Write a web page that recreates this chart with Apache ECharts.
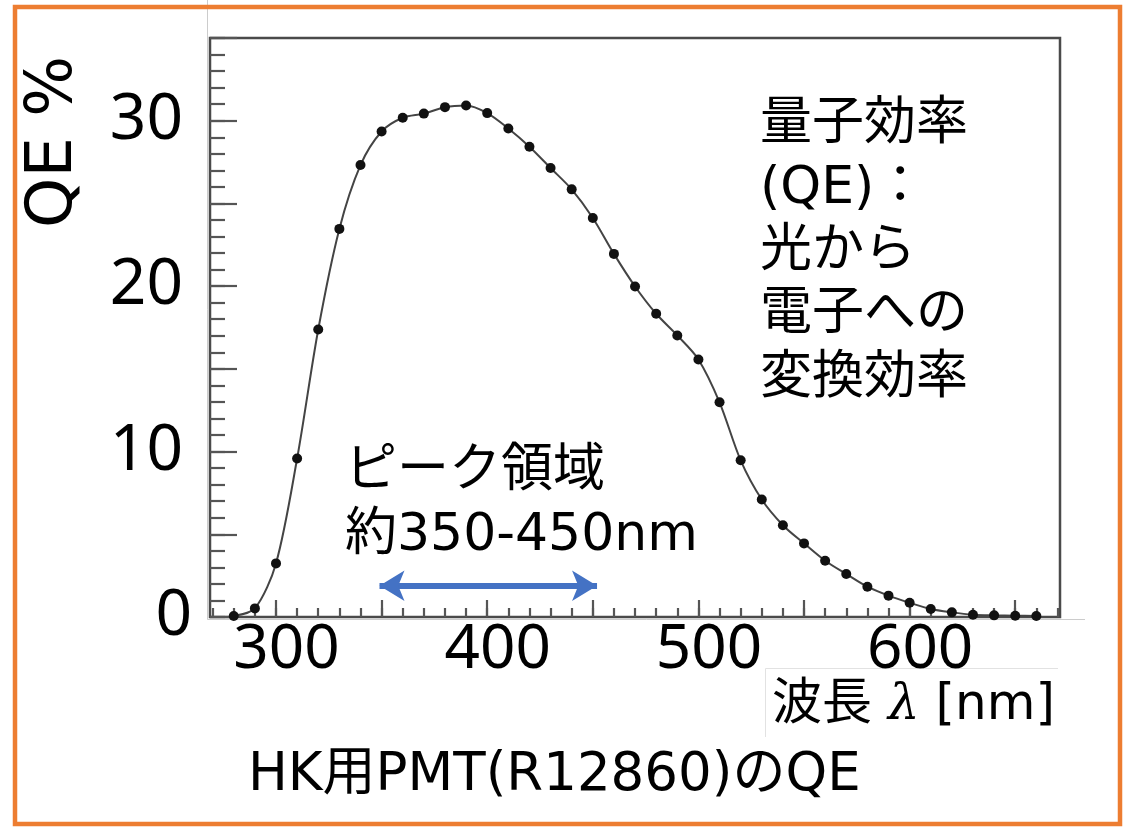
<!DOCTYPE html>
<html><head><meta charset="utf-8">
<script src="https://cdn.jsdelivr.net/npm/echarts@6/dist/echarts.min.js"></script>
<style>html,body{margin:0;padding:0;background:#fff}#c{width:1128px;height:827px}</style>
</head><body><div id="c"></div>
<script>
// ---- data ----
const wavelengths = [280,290,300,310,320,330,340,350,360,370,380,390,400,410,420,430,440,450,460,470,480,490,500,510,520,530,540,550,560,570,580,590,600,610,620,630,640,650,660];
const qe = [0.06,0.52,3.24,9.58,17.38,23.46,27.32,29.35,30.18,30.43,30.82,30.92,30.46,29.53,28.43,27.14,25.85,24.12,21.95,19.98,18.33,17.02,15.57,12.98,9.47,7.1,5.55,4.45,3.40,2.60,1.83,1.29,0.86,0.48,0.28,0.14,0.10,0.08,0.06];
const xMajorTicks = [300,350,400,450,500,550,600,650];
const xMinorTicks = [270,280,290,300,310,320,330,340,350,360,370,380,390,400,410,420,430,440,450,460,470,480,490,500,510,520,530,540,550,560,570,580,590,600,610,620,630,640,650,660,670];
const xTickLabels = [300,400,500,600];
const yMajorTicks = [0,5,10,15,20,25,30,35];
const yMinorTicks = [0,1,2,3,4,5,6,7,8,9,10,11,12,13,14,15,16,17,18,19,20,21,22,23,24,25,26,27,28,29,30,31,32,33,34,35];
const yTickLabels = [10,20,30];
const yZeroLabel = [0];
const peakRange = [349,452];
const peakArrowLevel = 1.89;

const xMin = 268.75, xMax = 671.2;
const labelShift = 4.97;

const chart = echarts.init(document.getElementById('c'), null, {renderer:'canvas'});
const annFont = "'DejaVu Sans','Noto Sans CJK JP',sans-serif";
const tickColor = '#555';

const hidden = {show:false};
const option = {
  backgroundColor:'#fff',
  animation:false,
  grid:{left:210, top:38, right:68, bottom:210, show:true, borderColor:'#4a4a4a', borderWidth:2.5, backgroundColor:'transparent'},
  xAxis:[
    {type:'value', min:xMin, max:xMax, position:'bottom', axisLine:hidden, splitLine:hidden, axisLabel:hidden,
     axisTick:{show:true, inside:true, length:17, customValues:xMajorTicks, lineStyle:{color:tickColor, width:2.2}}},
    {type:'value', min:xMin, max:xMax, position:'bottom', axisLine:hidden, splitLine:hidden, axisLabel:hidden,
     axisTick:{show:true, inside:true, length:9, customValues:xMinorTicks, lineStyle:{color:tickColor, width:2.2}}},
    {type:'value', min:xMin-labelShift, max:xMax-labelShift, position:'bottom', axisLine:hidden, splitLine:hidden, axisTick:hidden,
     axisLabel:{show:true, customValues:xTickLabels, margin:33, verticalAlign:'middle', fontFamily:'Noto Sans', fontSize:62, color:'#000'}}
  ],
  yAxis:[
    {type:'value', min:0, max:35, position:'left', axisLine:hidden, splitLine:hidden,
     axisTick:{show:true, inside:true, length:27, customValues:yMajorTicks, lineStyle:{color:tickColor, width:2.2}},
     axisLabel:{show:true, customValues:yTickLabels, margin:27, verticalAlign:'middle', fontFamily:'Noto Sans', fontSize:64, color:'#000'}},
    {type:'value', min:0, max:35, position:'left', axisLine:hidden, splitLine:hidden, axisLabel:hidden,
     axisTick:{show:true, inside:true, length:15, customValues:yMinorTicks, lineStyle:{color:tickColor, width:2.2}}},
    {type:'value', min:0, max:35, position:'left', axisLine:hidden, splitLine:hidden, axisTick:hidden,
     axisLabel:{show:true, customValues:yZeroLabel, margin:18, verticalAlign:'middle', fontFamily:'Noto Sans', fontSize:64, color:'#000'}}
  ],
  series:[{
    type:'line', xAxisIndex:0, yAxisIndex:0,
    data: wavelengths.map((w,i)=>[w, qe[i]]),
    smooth:0.3,
    symbol:'circle', symbolSize:10, showSymbol:true,
    itemStyle:{color:'#111'},
    lineStyle:{color:'#444', width:2},
    z:5,
    markLine:{
      silent:true, symbol:['arrow','arrow'], symbolSize:[23,25],
      label:{show:false},
      lineStyle:{color:'#4472C4', width:6, type:'solid'},
      data:[[{coord:[peakRange[0], peakArrowLevel]},{coord:[peakRange[1], peakArrowLevel]}]]
    }
  }],
  graphic:[
    {type:'rect', shape:{x:15, y:7, width:1105, height:817}, style:{fill:'none', stroke:'#ED7D31', lineWidth:4.5}, z:100},
    {type:'line', shape:{x1:207.5, y1:0, x2:207.5, y2:619.5}, style:{stroke:'#ccc', lineWidth:1}},
    {type:'line', shape:{x1:207.5, y1:619.5, x2:1085, y2:619.5}, style:{stroke:'#ccc', lineWidth:1}},
    {type:'line', shape:{x1:765.5, y1:668.5, x2:1058, y2:668.5}, style:{stroke:'#e2e2e2', lineWidth:1}},
    {type:'line', shape:{x1:765.5, y1:668.5, x2:765.5, y2:737}, style:{stroke:'#e2e2e2', lineWidth:1}},
    {type:'text', x:54, y:142, rotation:Math.PI/2,
     style:{text:'QE %', font:"64px 'DejaVu Sans'", fill:'#000', align:'center', verticalAlign:'middle'}},
    {type:'text', x:772, y:706,
     style:{text:'波長 {i|λ} [nm]', fontFamily:annFont, fontSize:50, fill:'#000', align:'left', verticalAlign:'middle',
       rich:{i:{fontFamily:"'DejaVu Serif','DejaVu Sans'", fontStyle:'italic', fontSize:50, fill:'#000'}}}},
    {type:'text', x:248, y:776,
     style:{text:'HK用PMT(R12860)のQE', fontFamily:annFont, fontSize:53, fill:'#000', align:'left', verticalAlign:'middle'}},
    {type:'text', x:760, y:94,
     style:{text:'量子効率\n(QE)：\n光から\n電子への\n変換効率', fontFamily:annFont, fontSize:52, lineHeight:63.4, fill:'#000', align:'left', verticalAlign:'top'}},
    {type:'text', x:345, y:440,
     style:{text:'ピーク領域\n約350-450nm', fontFamily:annFont, fontSize:52, lineHeight:64, fill:'#000', align:'left', verticalAlign:'top'}}
  ]
};
chart.setOption(option);
</script></body></html>
